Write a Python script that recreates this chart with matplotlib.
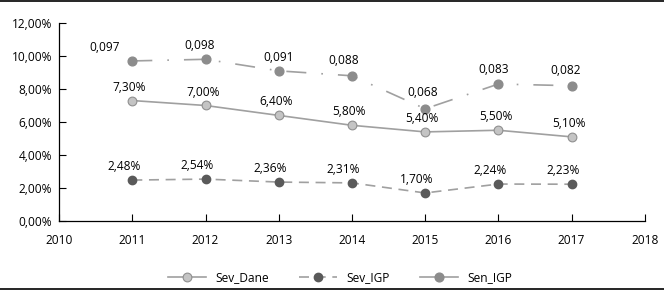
import matplotlib
matplotlib.use("Agg")
import matplotlib.pyplot as plt
from matplotlib.lines import Line2D
from matplotlib.ticker import FuncFormatter

plt.rcParams['font.family'] = ['Open Sans', 'DejaVu Sans']

years = [2011, 2012, 2013, 2014, 2015, 2016, 2017]
sev_dane = [0.073, 0.070, 0.064, 0.058, 0.054, 0.055, 0.051]
sev_igp = [0.0248, 0.0254, 0.0236, 0.0231, 0.0170, 0.0224, 0.0223]
sen_igp = [0.097, 0.098, 0.091, 0.088, 0.068, 0.083, 0.082]


def pct(v):
    return "{:.2f}%".format(v * 100).replace(".", ",")


def dec(v):
    return "{:.3f}".format(v).replace(".", ",")


fig = plt.figure(figsize=(6.64, 2.91), dpi=100)
ax = fig.add_axes([0.089, 0.2405, 0.882, 0.6805])

line_col = "#a0a0a0"
fs = 8.6

l1, = ax.plot(years, sev_dane, color=line_col, lw=1.2, marker="o", ms=6.3,
              mfc="#c4c4c4", mec="#8f8f8f", mew=0.8, label="Sev_Dane")
l2, = ax.plot(years, sev_igp, color=line_col, lw=1.2, ls=(0, (6, 4)), marker="o",
              ms=6, mfc="#5a5a5a", mec="#5a5a5a", label="Sev_IGP")
ax.plot(years, sen_igp, color=line_col, lw=1.2, ls=(0, (12, 9, 1, 9)),
        marker="o", ms=6.3, mfc="#8c8c8c", mec="#8c8c8c")
# legend shows Sen_IGP with a solid line
l3 = Line2D([], [], color=line_col, lw=1.2, marker="o", ms=6.3,
            mfc="#8c8c8c", mec="#8c8c8c", label="Sen_IGP")

# data labels
for x, y in zip(years, sev_dane):
    ax.annotate(pct(y), (x, y), xytext=(-2, 5), textcoords="offset points",
                ha="center", va="bottom", fontsize=fs)
for x, y in zip(years, sev_igp):
    ax.annotate(pct(y), (x, y), xytext=(-6, 5), textcoords="offset points",
                ha="center", va="bottom", fontsize=fs)
sen_off = [(-20, 5), (-4, 5), (0, 5), (-6, 6), (-2, 7), (-3, 6), (-4, 6)]
for (x, y), off in zip(zip(years, sen_igp), sen_off):
    ax.annotate(dec(y), (x, y), xytext=off, textcoords="offset points",
                ha="center", va="bottom", fontsize=fs)

ax.set_xlim(2010, 2018)
ax.set_ylim(0, 0.12)
ax.set_xticks(range(2010, 2019))
ax.set_yticks([0, 0.02, 0.04, 0.06, 0.08, 0.10, 0.12])
ax.yaxis.set_major_formatter(FuncFormatter(lambda v, p: pct(v)))
ax.tick_params(direction="in", length=5, width=0.8, labelsize=fs, colors="black")
ax.tick_params(axis="x", pad=9)
ax.tick_params(axis="y", pad=5)
for s in ["top", "right"]:
    ax.spines[s].set_visible(False)
for s in ["left", "bottom"]:
    ax.spines[s].set_linewidth(0.9)

ax.legend(handles=[l1, l2, l3], loc="upper center", bbox_to_anchor=(0.48, -0.2),
          ncol=3, frameon=False, fontsize=fs, handlelength=3.2, columnspacing=2.5)

# border lines top and bottom
fig.add_artist(Line2D([0, 1], [0.995, 0.995], color="black", lw=1.2))
fig.add_artist(Line2D([0, 1], [0.007, 0.007], color="black", lw=1.2))

fig.savefig("out.png", dpi=100)
